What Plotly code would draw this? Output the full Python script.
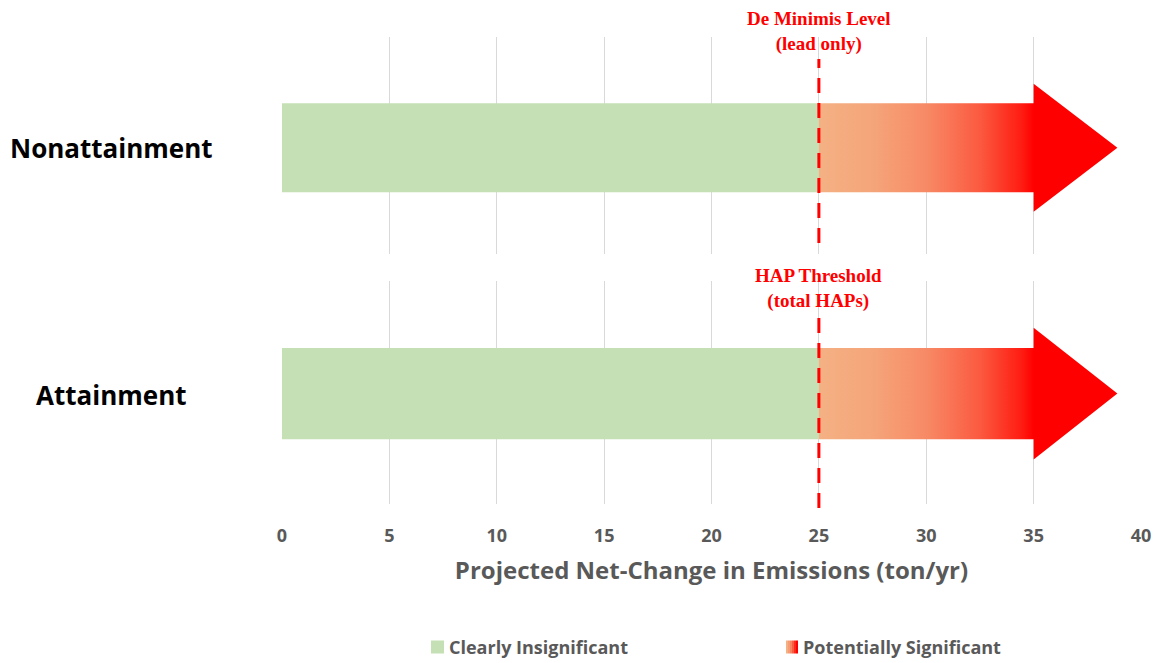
import plotly.graph_objects as go

# ---- data ----
categories = ["Nonattainment", "Attainment"]
threshold_values = [25, 25]          # De minimis / HAP threshold (ton/yr)
arrow_shaft_end = [35, 35]           # gradient shaft end
arrow_tip = [38.9, 38.9]             # arrow point
threshold_labels = ["De Minimis Level<br>(lead only)", "HAP Threshold<br>(total HAPs)"]
x_ticks = [0, 5, 10, 15, 20, 25, 30, 35, 40]
legend_labels = ["Clearly Insignificant", "Potentially Significant"]

GREEN = "#C5E0B4"
GRAY = "#595959"
RED = "#FF0000"
grad_scale = [[0.0, "#F4B183"], [0.25, "#F5A57A"], [0.5, "#F78A66"],
              [0.75, "#FB5A40"], [0.95, "#FF1A10"], [1.0, "#FF0000"]]

BAR_W = 0.82
HEAD_H = 0.59
FONT = "Open Sans"

fig = go.Figure()
yaxes = ["y", "y2"]
xaxes = ["x", "x2"]
for i, cat in enumerate(categories):
    fig.add_trace(go.Bar(
        x=[threshold_values[i]], y=[0], base=0, orientation="h", width=BAR_W,
        marker=dict(color=GREEN, line=dict(width=0)), xaxis=xaxes[i], yaxis=yaxes[i],
        showlegend=False, hoverinfo="skip"))
    s, e, t, h = threshold_values[i], arrow_shaft_end[i], arrow_tip[i], BAR_W / 2
    fig.add_trace(go.Scatter(
        x=[s, e, e, t, e, e, s, s], y=[-h, -h, -HEAD_H, 0, HEAD_H, h, h, -h],
        mode="lines", fill="toself", line=dict(width=0),
        fillgradient=dict(type="horizontal", colorscale=grad_scale, start=s, stop=e),
        xaxis=xaxes[i], yaxis=yaxes[i], showlegend=False, hoverinfo="skip"))

# panel geometry (paper coords)
top_dom = [0.5353, 1.0]
bot_dom = [0.0, 0.4775]

axis_common = dict(range=[0, 40], tickvals=x_ticks, showgrid=True, gridcolor="#D9D9D9",
                   gridwidth=1, zeroline=False, showline=False, ticks="")
fig.update_layout(
    xaxis=dict(**axis_common, anchor="y", showticklabels=False),
    xaxis2=dict(**axis_common, anchor="y2",
                tickfont=dict(family=FONT, size=18, color=GRAY, weight="bold"),
                ticklabelstandoff=19,
                title=dict(text="Projected Net-Change in Emissions (ton/yr)",
                           font=dict(family=FONT, size=24, color=GRAY, weight="bold"),
                           standoff=16)),
    yaxis=dict(domain=top_dom, range=[-0.98, 1.02], visible=False, fixedrange=True),
    yaxis2=dict(domain=bot_dom, range=[-0.99, 1.01], visible=False, fixedrange=True),
)

# threshold dashed lines + labels
line_spans = [(0.559, 0.953), (-0.0086, 0.409)]
label_y = [0.958, 0.406]
for i in range(2):
    fig.add_shape(type="line", xref=xaxes[i], yref="paper",
                  x0=threshold_values[i], x1=threshold_values[i],
                  y0=line_spans[i][0], y1=line_spans[i][1],
                  line=dict(color=RED, width=3, dash="15px,10px"), layer="above")
    fig.add_annotation(xref=xaxes[i], yref="paper", x=threshold_values[i], y=label_y[i],
                       text="<b>" + threshold_labels[i] + "</b>", showarrow=False,
                       yanchor="bottom", xanchor="center",
                       font=dict(family="Liberation Serif", size=19, color=RED))

# category labels
cat_y = [1 - (148 - 37) / 467, 1 - (395 - 37) / 467]
for i, cat in enumerate(categories):
    fig.add_annotation(xref="paper", yref="paper", x=(111 - 282) / 859, y=cat_y[i],
                       text="<b>" + cat + "</b>", showarrow=False, xanchor="center", yanchor="middle",
                       font=dict(family=FONT, size=26, color="#000000"))

# manual legend
leg_y = -(647 - 504) / 467
sq = 13 / 467
def px(xp):
    return (xp - 282) / 859
fig.add_shape(type="rect", xref="paper", yref="paper", x0=px(431), x1=px(444),
              y0=leg_y - sq / 2, y1=leg_y + sq / 2, fillcolor=GREEN, line=dict(width=0))
strip_cols = ["#F4B183", "#F59E76", "#F7845F", "#FA5C42", "#FD2A1A", "#FF0000"]
for k, c in enumerate(strip_cols):
    fig.add_shape(type="rect", xref="paper", yref="paper",
                  x0=px(786 + k * 2), x1=px(786 + (k + 1) * 2),
                  y0=leg_y - sq / 2, y1=leg_y + sq / 2, fillcolor=c, line=dict(width=0))
for xp, lab in [(447, legend_labels[0]), (801, legend_labels[1])]:
    fig.add_annotation(xref="paper", yref="paper", x=px(xp), y=leg_y, text="<b>" + lab + "</b>",
                       showarrow=False, xanchor="left", yanchor="middle",
                       font=dict(family=FONT, size=18, color=GRAY))

fig.update_layout(
    width=1162, height=663, autosize=False,
    margin=dict(l=282, r=21, t=37, b=159),
    plot_bgcolor="white", paper_bgcolor="white",
    showlegend=False, barmode="overlay",
)

fig.write_html("out.html", post_script="document.body.style.margin='0';",
               config={"displayModeBar": False})
